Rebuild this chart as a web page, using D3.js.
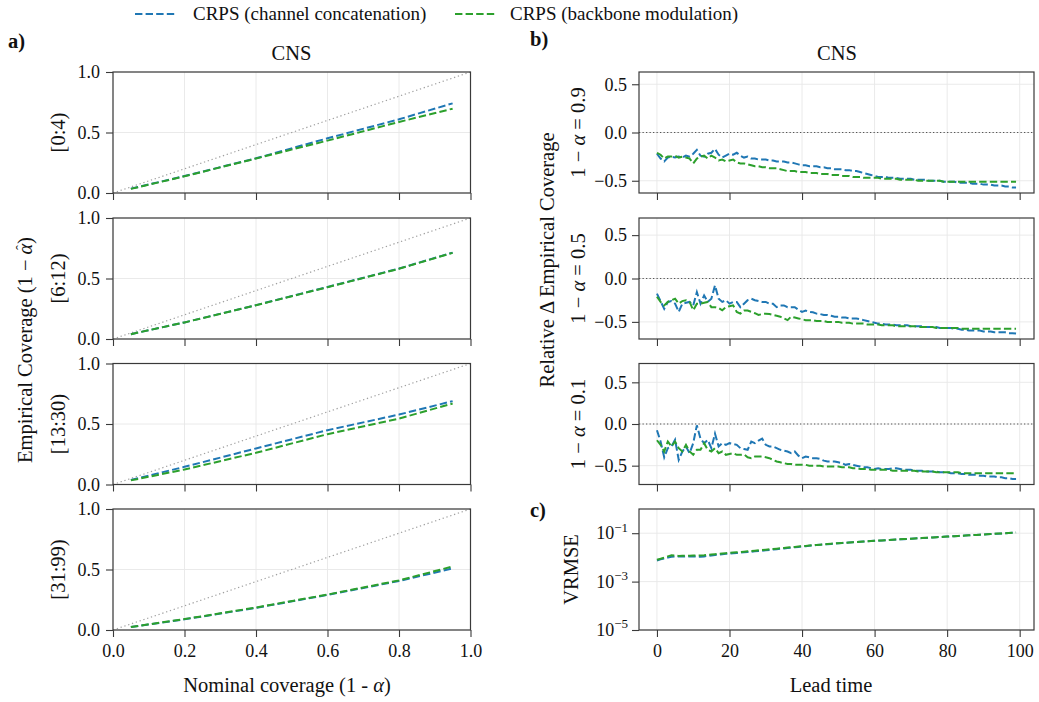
<!DOCTYPE html>
<html>
<head>
<meta charset="utf-8">
<script src="https://cdn.jsdelivr.net/npm/d3@7"></script>
<style>
  body { margin: 0; background: #fff; }
  svg text { font-family: "Liberation Serif", "Times New Roman", serif !important; fill: #111; }
</style>
</head>
<body>
<svg id="chart" width="1039" height="702"></svg>
<script>
// ---------------- data ----------------
const seriesNames = ["CRPS (channel concatenation)", "CRPS (backbone modulation)"];
const seriesColors = ["#1f77b4", "#2ca02c"];

// a) calibration curves per lead-time bucket
const nominalCoverage = [0.05, 0.2, 0.4, 0.6, 0.8, 0.95];
const bucketLabels = ["[0:4)", "[6:12)", "[13:30)", "[31:99)"];
const coverageConcat = [
  [0.036, 0.140, 0.287, 0.452, 0.609, 0.741],
  [0.040, 0.137, 0.280, 0.430, 0.582, 0.714],
  [0.038, 0.146, 0.298, 0.449, 0.578, 0.689],
  [0.025, 0.088, 0.183, 0.290, 0.405, 0.509]
];
const coverageModulation = [
  [0.034, 0.138, 0.285, 0.433, 0.587, 0.697],
  [0.040, 0.137, 0.279, 0.428, 0.580, 0.712],
  [0.034, 0.124, 0.262, 0.416, 0.545, 0.669],
  [0.025, 0.090, 0.186, 0.293, 0.410, 0.525]
];

// b) relative coverage error over lead time
const leadTime = Array.from({ length: 100 }, (_, i) => i);
const levelLabels = ["0.9", "0.5", "0.1"];
const relConcat90 = [-0.22,-0.27,-0.30,-0.26,-0.25,-0.26,-0.25,-0.26,-0.24,-0.25,
  -0.22,-0.18,-0.24,-0.25,-0.22,-0.21,-0.17,-0.23,-0.26,-0.24,
  -0.22,-0.23,-0.21,-0.24,-0.26,-0.25,-0.27,-0.27,-0.28,-0.28,
  -0.28,-0.29,-0.29,-0.30,-0.30,-0.30,-0.31,-0.31,-0.32,-0.33,
  -0.34,-0.34,-0.35,-0.35,-0.35,-0.36,-0.36,-0.37,-0.37,-0.38,
  -0.38,-0.38,-0.39,-0.39,-0.40,-0.40,-0.41,-0.42,-0.43,-0.44,
  -0.45,-0.46,-0.46,-0.46,-0.47,-0.47,-0.47,-0.48,-0.48,-0.48,
  -0.48,-0.49,-0.49,-0.49,-0.49,-0.50,-0.50,-0.50,-0.50,-0.51,
  -0.51,-0.51,-0.51,-0.52,-0.52,-0.52,-0.52,-0.53,-0.53,-0.53,
  -0.54,-0.54,-0.54,-0.55,-0.55,-0.55,-0.56,-0.56,-0.57,-0.57];
const relModul90 = [-0.21,-0.23,-0.27,-0.25,-0.25,-0.24,-0.26,-0.25,-0.26,-0.27,
  -0.32,-0.27,-0.25,-0.24,-0.27,-0.24,-0.26,-0.29,-0.28,-0.30,
  -0.29,-0.28,-0.31,-0.32,-0.32,-0.33,-0.34,-0.35,-0.35,-0.36,
  -0.36,-0.37,-0.37,-0.37,-0.38,-0.39,-0.40,-0.40,-0.40,-0.41,
  -0.41,-0.41,-0.42,-0.42,-0.42,-0.43,-0.43,-0.43,-0.44,-0.44,
  -0.44,-0.45,-0.45,-0.45,-0.46,-0.46,-0.46,-0.47,-0.47,-0.47,
  -0.47,-0.47,-0.48,-0.48,-0.48,-0.48,-0.48,-0.49,-0.49,-0.49,
  -0.49,-0.49,-0.50,-0.50,-0.50,-0.50,-0.50,-0.50,-0.50,-0.51,
  -0.51,-0.51,-0.51,-0.51,-0.51,-0.51,-0.51,-0.51,-0.51,-0.51,
  -0.51,-0.51,-0.51,-0.51,-0.51,-0.51,-0.51,-0.51,-0.51,-0.51];
const relConcat50 = [-0.175,-0.26,-0.35,-0.27,-0.26,-0.29,-0.385,-0.29,-0.28,-0.27,
  -0.31,-0.156,-0.29,-0.195,-0.27,-0.233,-0.08,-0.233,-0.27,-0.25,
  -0.29,-0.27,-0.27,-0.33,-0.29,-0.25,-0.233,-0.25,-0.26,-0.27,
  -0.27,-0.29,-0.29,-0.33,-0.31,-0.31,-0.33,-0.33,-0.33,-0.36,
  -0.385,-0.37,-0.385,-0.39,-0.405,-0.41,-0.42,-0.42,-0.43,-0.44,
  -0.44,-0.45,-0.45,-0.46,-0.46,-0.46,-0.47,-0.48,-0.49,-0.50,
  -0.51,-0.52,-0.52,-0.53,-0.53,-0.53,-0.54,-0.54,-0.54,-0.54,
  -0.55,-0.55,-0.55,-0.55,-0.56,-0.56,-0.56,-0.56,-0.57,-0.57,
  -0.57,-0.57,-0.58,-0.58,-0.59,-0.59,-0.60,-0.60,-0.60,-0.60,
  -0.61,-0.61,-0.61,-0.62,-0.62,-0.62,-0.62,-0.63,-0.63,-0.634];
const relModul50 = [-0.21,-0.27,-0.31,-0.27,-0.25,-0.233,-0.29,-0.26,-0.25,-0.27,
  -0.366,-0.29,-0.29,-0.28,-0.27,-0.33,-0.33,-0.34,-0.366,-0.33,
  -0.32,-0.31,-0.385,-0.405,-0.37,-0.37,-0.385,-0.40,-0.42,-0.41,
  -0.405,-0.41,-0.42,-0.43,-0.44,-0.46,-0.48,-0.44,-0.45,-0.46,
  -0.47,-0.48,-0.48,-0.48,-0.49,-0.49,-0.49,-0.50,-0.50,-0.50,
  -0.50,-0.51,-0.51,-0.51,-0.52,-0.52,-0.52,-0.52,-0.53,-0.53,
  -0.53,-0.53,-0.54,-0.54,-0.54,-0.54,-0.55,-0.55,-0.55,-0.55,
  -0.55,-0.55,-0.56,-0.56,-0.56,-0.56,-0.56,-0.57,-0.57,-0.57,
  -0.57,-0.57,-0.57,-0.57,-0.58,-0.58,-0.58,-0.58,-0.58,-0.58,
  -0.58,-0.58,-0.58,-0.58,-0.58,-0.58,-0.58,-0.58,-0.58,-0.58];
const relConcat10 = [-0.075,-0.21,-0.40,-0.29,-0.27,-0.19,-0.43,-0.33,-0.27,-0.35,
  -0.23,-0.016,-0.175,-0.23,-0.19,-0.29,-0.115,-0.27,-0.23,-0.25,
  -0.23,-0.24,-0.25,-0.29,-0.30,-0.31,-0.21,-0.23,-0.20,-0.175,
  -0.25,-0.27,-0.27,-0.29,-0.31,-0.32,-0.33,-0.35,-0.33,-0.38,
  -0.41,-0.39,-0.40,-0.41,-0.41,-0.42,-0.44,-0.45,-0.45,-0.45,
  -0.46,-0.47,-0.49,-0.48,-0.49,-0.50,-0.51,-0.52,-0.52,-0.53,
  -0.54,-0.53,-0.54,-0.54,-0.54,-0.53,-0.53,-0.54,-0.55,-0.55,
  -0.55,-0.56,-0.56,-0.56,-0.57,-0.57,-0.57,-0.57,-0.58,-0.58,
  -0.58,-0.59,-0.59,-0.59,-0.60,-0.60,-0.61,-0.61,-0.61,-0.62,
  -0.62,-0.63,-0.63,-0.63,-0.64,-0.64,-0.65,-0.65,-0.66,-0.66];
const relModul10 = [-0.195,-0.25,-0.33,-0.21,-0.27,-0.21,-0.29,-0.33,-0.25,-0.33,
  -0.37,-0.31,-0.31,-0.23,-0.31,-0.33,-0.29,-0.35,-0.33,-0.37,
  -0.36,-0.35,-0.37,-0.37,-0.365,-0.40,-0.41,-0.39,-0.39,-0.39,
  -0.40,-0.41,-0.43,-0.45,-0.46,-0.47,-0.48,-0.48,-0.49,-0.49,
  -0.49,-0.49,-0.50,-0.50,-0.50,-0.50,-0.51,-0.51,-0.51,-0.51,
  -0.51,-0.52,-0.52,-0.52,-0.53,-0.53,-0.54,-0.54,-0.54,-0.55,
  -0.55,-0.55,-0.55,-0.55,-0.55,-0.56,-0.56,-0.56,-0.56,-0.56,
  -0.56,-0.56,-0.57,-0.57,-0.57,-0.57,-0.57,-0.58,-0.58,-0.58,
  -0.58,-0.58,-0.58,-0.58,-0.59,-0.59,-0.59,-0.59,-0.59,-0.59,
  -0.59,-0.59,-0.59,-0.59,-0.59,-0.59,-0.59,-0.59,-0.59,-0.59];

// c) VRMSE over lead time
const vrmseConcat = [0.0075,0.0083,0.0090,0.0098,0.0106,0.0108,0.0109,0.0109,0.0110,0.0110,
  0.0110,0.0108,0.0106,0.0110,0.0115,0.0120,0.0125,0.0130,0.0135,0.0140,
  0.0144,0.0148,0.0152,0.0157,0.0162,0.0167,0.0172,0.0178,0.0184,0.0190,
  0.0197,0.0204,0.0211,0.0219,0.0227,0.0235,0.0244,0.0253,0.0262,0.0272,
  0.0282,0.0292,0.0302,0.0312,0.0322,0.0332,0.0342,0.0352,0.0362,0.0372,
  0.0382,0.0392,0.0402,0.0412,0.0422,0.0432,0.0442,0.0452,0.0462,0.0472,
  0.0482,0.0492,0.0502,0.0512,0.0523,0.0534,0.0545,0.0556,0.0567,0.0578,
  0.0590,0.0602,0.0614,0.0627,0.0640,0.0653,0.0666,0.0680,0.0694,0.0708,
  0.0722,0.0737,0.0752,0.0767,0.0783,0.0799,0.0815,0.0832,0.0849,0.0866,
  0.0884,0.0902,0.0920,0.0939,0.0958,0.0977,0.0997,0.1017,0.1038,0.1060];
const vrmseModul = [0.0080,0.0088,0.0098,0.0110,0.0122,0.0118,0.0115,0.0116,0.0117,0.0118,
  0.0119,0.0120,0.0121,0.0123,0.0127,0.0131,0.0136,0.0140,0.0145,0.0150,
  0.0154,0.0158,0.0163,0.0168,0.0173,0.0178,0.0184,0.0190,0.0196,0.0202,
  0.0209,0.0216,0.0223,0.0230,0.0238,0.0246,0.0254,0.0263,0.0272,0.0281,
  0.0290,0.0299,0.0308,0.0318,0.0328,0.0337,0.0347,0.0357,0.0367,0.0377,
  0.0387,0.0396,0.0405,0.0415,0.0425,0.0435,0.0445,0.0455,0.0465,0.0475,
  0.0485,0.0495,0.0505,0.0515,0.0526,0.0537,0.0548,0.0559,0.0570,0.0581,
  0.0593,0.0605,0.0617,0.0630,0.0643,0.0656,0.0669,0.0683,0.0697,0.0711,
  0.0725,0.0740,0.0755,0.0770,0.0786,0.0802,0.0818,0.0835,0.0852,0.0869,
  0.0887,0.0905,0.0923,0.0942,0.0961,0.0980,0.1000,0.1020,0.1041,0.1062];

const relConcat = [relConcat90, relConcat50, relConcat10];
const relModul = [relModul90, relModul50, relModul10];

// ---------------- layout ----------------
const svg = d3.select("#chart");
const tickFont = 18, labelFont = 20.5;
const rowTop = [72, 218, 363.5, 509], rowH = 121;
const leftRange = [113, 470.5], rightRange = [639, 1034];
const dash = "7.4,3.2";
const gridColor = "#e8e8e8", frameColor = "#3a3a3a";

function drawFrame(g, x, y, xTicks, yTicks, showXLabels, xFmt, yFmt, yPad) {
  const [x0, x1] = x.range();
  const [yb, yt] = y.range();
  // grid
  g.append("g").selectAll("line").data(xTicks).join("line")
    .attr("x1", d => x(d)).attr("x2", d => x(d)).attr("y1", yt).attr("y2", yb)
    .attr("stroke", gridColor).attr("stroke-width", 0.9);
  g.append("g").selectAll("line").data(yTicks).join("line")
    .attr("x1", x0).attr("x2", x1).attr("y1", d => y(d)).attr("y2", d => y(d))
    .attr("stroke", gridColor).attr("stroke-width", 0.9);
  // axes
  const ax = g.append("g").attr("transform", `translate(0,${yb})`)
    .call(d3.axisBottom(x).tickValues(xTicks).tickSize(7).tickPadding(7)
      .tickFormat(showXLabels ? xFmt : () => ""));
  const ay = g.append("g").attr("transform", `translate(${x0},0)`)
    .call(d3.axisLeft(y).tickValues(yTicks).tickSize(7).tickPadding(yPad).tickFormat(yFmt));
  [ax, ay].forEach(a => {
    a.attr("font-family", null).attr("font-size", null);
    a.select(".domain").remove();
    a.selectAll(".tick line").attr("stroke", frameColor).attr("stroke-width", 1.1);
    a.selectAll(".tick text").style("font-size", tickFont + "px").attr("fill", "#111");
  });
  return ay;
}

function addFrameRect(g, x, y) {
  const [x0, x1] = x.range();
  const [yb, yt] = y.range();
  g.append("rect").attr("x", x0).attr("y", yt).attr("width", x1 - x0).attr("height", yb - yt)
    .attr("fill", "none").attr("stroke", frameColor).attr("stroke-width", 1.2);
}

function drawSeries(g, x, y, xs, ys, color) {
  const line = d3.line().x((d, i) => x(xs[i])).y(d => y(d));
  g.append("path").datum(ys).attr("d", line)
    .attr("fill", "none").attr("stroke", color).attr("stroke-width", 2)
    .attr("stroke-dasharray", dash);
}

function rotatedLabel(x, y) {
  return svg.append("text")
    .attr("transform", `translate(${x},${y}) rotate(-90)`)
    .attr("text-anchor", "middle").attr("dy", "0.35em").style("font-size", labelFont + "px");
}

// ---------------- a) calibration panels ----------------
const fmt1 = d3.format(".1f");
bucketLabels.forEach((lab, r) => {
  const g = svg.append("g");
  const x = d3.scaleLinear().domain([0, 1]).range(leftRange);
  const y = d3.scaleLinear().domain([0, 1]).range([rowTop[r] + rowH, rowTop[r]]);
  drawFrame(g, x, y, [0, 0.2, 0.4, 0.6, 0.8, 1.0], [0, 0.5, 1.0], r === 3, fmt1, fmt1, 6);
  // ideal calibration diagonal
  g.append("line").attr("x1", x(0)).attr("y1", y(0)).attr("x2", x(1)).attr("y2", y(1))
    .attr("stroke", "#a0a0a0").attr("stroke-width", 1.2).attr("stroke-dasharray", "1.3,2.7");
  drawSeries(g, x, y, nominalCoverage, coverageConcat[r], seriesColors[0]);
  drawSeries(g, x, y, nominalCoverage, coverageModulation[r], seriesColors[1]);
  addFrameRect(g, x, y);
  rotatedLabel(57.5, rowTop[r] + rowH / 2).text(lab);
});

// ---------------- b) relative coverage error panels ----------------
const xLead = d3.scaleLinear().domain([-4.95, 103.95]).range(rightRange);
levelLabels.forEach((lvl, r) => {
  const g = svg.append("g");
  const lim = 1.1 * d3.max([...relConcat[r], ...relModul[r]], v => Math.abs(v));
  const y = d3.scaleLinear().domain([-lim, lim]).range([rowTop[r] + rowH, rowTop[r]]);
  drawFrame(g, xLead, y, [0, 20, 40, 60, 80, 100], [-0.5, 0, 0.5], false, d3.format("d"), fmt1, 5);
  g.append("line").attr("x1", rightRange[0]).attr("x2", rightRange[1])
    .attr("y1", y(0)).attr("y2", y(0))
    .attr("stroke", "#555").attr("stroke-width", 1.2).attr("stroke-dasharray", "1.3,2.2");
  drawSeries(g, xLead, y, leadTime, relConcat[r], seriesColors[0]);
  drawSeries(g, xLead, y, leadTime, relModul[r], seriesColors[1]);
  addFrameRect(g, xLead, y);
  const t = rotatedLabel(578, rowTop[r] + rowH / 2);
  t.append("tspan").text("1 − ");
  t.append("tspan").attr("font-style", "italic").text("α");
  t.append("tspan").text(" = " + lvl);
});

// ---------------- c) VRMSE panel ----------------
{
  const g = svg.append("g");
  const y = d3.scaleLog().domain([1e-5, 1]).range([rowTop[3] + rowH, rowTop[3]]);
  const ay = drawFrame(g, xLead, y, [0, 20, 40, 60, 80, 100], [1e-5, 1e-3, 1e-1], true,
    d3.format("d"), () => "10", 4);
  ay.selectAll(".tick text").each(function (d) {
    const t = d3.select(this);
    t.text("10");
    t.append("tspan").attr("dy", "-0.6em").style("font-size", "13px")
      .text("−" + Math.round(-Math.log10(d)));
  });
  drawSeries(g, xLead, y, leadTime, vrmseConcat, seriesColors[0]);
  drawSeries(g, xLead, y, leadTime, vrmseModul, seriesColors[1]);
  addFrameRect(g, xLead, y);
  rotatedLabel(571, rowTop[3] + rowH / 2).text("VRMSE");
}

// ---------------- titles, labels, legend ----------------
svg.append("text").attr("x", 291.5).attr("y", 60).attr("text-anchor", "middle")
  .style("font-size", labelFont + "px").text("CNS");
svg.append("text").attr("x", 837).attr("y", 60).attr("text-anchor", "middle")
  .style("font-size", labelFont + "px").text("CNS");

[["a)", 8, 48], ["b)", 530, 46], ["c)", 530, 517]].forEach(([s, x, y]) => {
  svg.append("text").attr("x", x).attr("y", y).style("font-size", labelFont + "px")
    .attr("font-weight", "bold").text(s);
});

{
  const t = svg.append("text").attr("x", 287).attr("y", 692).attr("text-anchor", "middle")
    .style("font-size", labelFont + "px");
  t.append("tspan").text("Nominal coverage (1 - ");
  t.append("tspan").attr("font-style", "italic").text("α");
  t.append("tspan").text(")");
}
svg.append("text").attr("x", 831).attr("y", 692).attr("text-anchor", "middle")
  .style("font-size", labelFont + "px").text("Lead time");

{
  const t = rotatedLabel(25, 350);
  t.append("tspan").text("Empirical Coverage (1 − ");
  t.append("tspan").attr("font-style", "italic").text("α");
  // hat accent over alpha
  t.append("tspan").attr("dx", "-0.42em").attr("dy", "-0.42em").style("font-size", "15px").text("ˆ");
  t.append("tspan").attr("dx", "0.05em").attr("dy", "0.32em").text(")");
}
rotatedLabel(547, 260).text("Relative Δ Empirical Coverage");

// legend
const legendPos = [[135, 193], [455, 510]];
seriesNames.forEach((name, i) => {
  const [lx, tx] = legendPos[i];
  svg.append("line").attr("x1", lx).attr("x2", lx + 42).attr("y1", 14).attr("y2", 14)
    .attr("stroke", seriesColors[i]).attr("stroke-width", 2).attr("stroke-dasharray", dash);
  svg.append("text").attr("x", tx).attr("y", 20).style("font-size", "19px").text(name);
});
</script>
</body>
</html>
